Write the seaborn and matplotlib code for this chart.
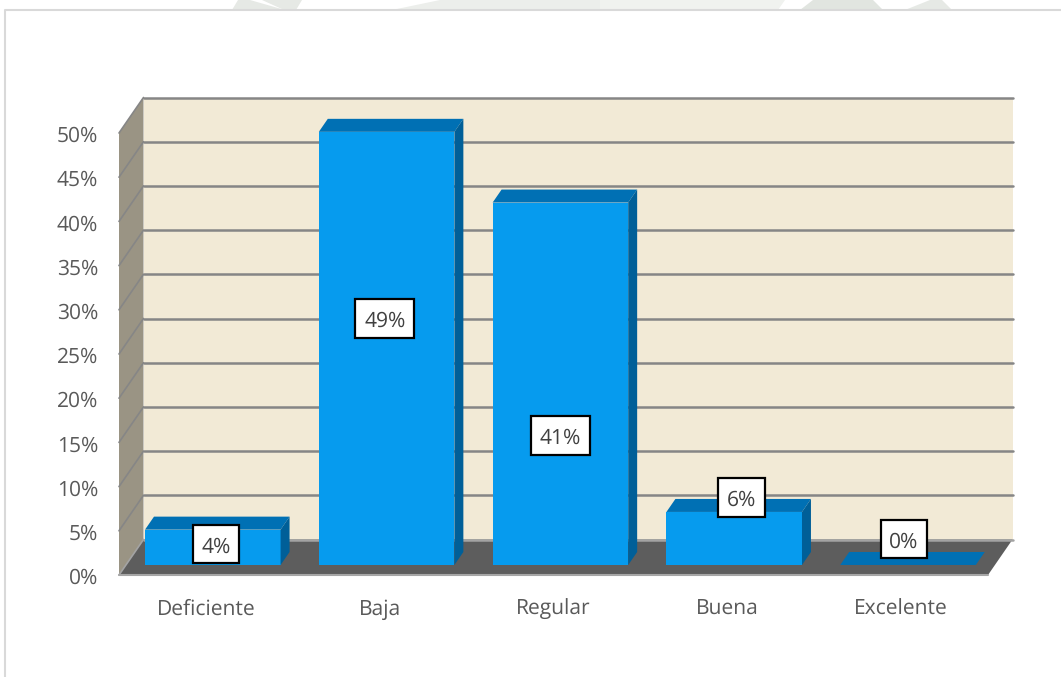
import matplotlib
matplotlib.use("Agg")
import matplotlib.pyplot as plt
import seaborn as sns
import pandas as pd
from matplotlib.patches import Polygon, Rectangle
from matplotlib.path import Path
from matplotlib.transforms import Affine2D, ScaledTranslation

categories = ["Deficiente", "Baja", "Regular", "Buena", "Excelente"]
values = [4, 49, 41, 6, 0]
value_labels = ["4%", "49%", "41%", "6%", "0%"]
y_ticks = [0, 5, 10, 15, 20, 25, 30, 35, 40, 45, 50]
y_tick_labels = ["0%", "5%", "10%", "15%", "20%", "25%", "30%", "35%", "40%", "45%", "50%"]
label_x = [0.058, 1.03, 2.04, 3.08, 4.017]
label_y = [3.15, 28.65, 15.45, 8.45, 3.72]

W, H = 1061, 677
sns.set_theme(style="white")
plt.rcParams["font.family"] = ["Open Sans", "DejaVu Sans"]
plt.rcParams["text.hinting"] = "no_hinting"
plt.rcParams["text.hinting_factor"] = 1
TEXT = "#595959"
GRID = "#868686"

fig = plt.figure(figsize=(W / 100, H / 100), dpi=100, facecolor="white")

# faint watermark peeking above the chart frame
watermark = [
    ([(232, 10), (238, 0), (250, 0), (285, 10)], "#e6e9e5"),
    ([(262, 0), (302, 0), (296, 10), (284, 10)], "#e6e9e5"),
    ([(392, 10), (440, 0), (600, 0), (600, 10)], "#eceeeb"),
    ([(600, 0), (785, 0), (778, 10), (600, 10)], "#f0f2ef"),
    ([(813, 0), (873, 0), (883, 10), (800, 10)], "#e1e5e0"),
    ([(905, 10), (930, 0), (942, 0), (952, 10)], "#e6e9e5"),
]
for pts, c in watermark:
    fig.patches.append(Polygon([(x / W, 1 - y / H) for x, y in pts], closed=True,
                               transform=fig.transFigure, fc=c, ec="none"))
fig.add_artist(plt.Line2D([5 / W, 5 / W, 1], [0, 1 - 10 / H, 1 - 10 / H],
                          color="#d9d9d9", lw=1.5, transform=fig.transFigure))

ax = fig.add_axes([119 / W, 1 - 575 / H, (988 - 119) / W, (575 - 133) / H])
df = pd.DataFrame({"categoria": categories, "valor": values})
sns.barplot(data=df, x="categoria", y="valor", color="#069bee", saturation=1,
            width=0.78, ax=ax, zorder=5, linewidth=0, edgecolor="none")
ax.set_xlim(-0.5, 4.5)
ax.set_ylim(0, 50)
ax.patch.set_alpha(0)
sns.despine(ax=ax, left=True, bottom=True, top=True, right=True)
ax.set_xlabel("")
ax.set_ylabel("")

# oblique depth, in data units per full wall depth
DX = 24.5 / 173.8
DY = 35.5 / 8.84
BAR_FRONT = 0.282
BAR_BACK = 0.648


def shift(x, y, f):
    return (x + DX * f, y + DY * f)


def poly(pts, color, z, **kw):
    ax.add_patch(Polygon(pts, closed=True, fc=color, ec="none", zorder=z, clip_on=False, **kw))


def label_box(x0, y0, width, height, mutation_size):
    """Square box around a label, sitting a little above the text's own extents."""
    pad = 0.42 * mutation_size
    lift = 3
    xa, xb = x0 - pad, x0 + width + pad
    ya, yb = y0 - pad + lift, y0 + height + pad + lift
    return Path([(xa, ya), (xb, ya), (xb, yb), (xa, yb), (xa, ya)], closed=True)


# the library's bars, taken before any wall is added
bars = [q for q in ax.patches if isinstance(q, Rectangle)]

# walls and floor
poly([shift(-0.5, 0, 0), shift(-0.5, 0, 1), shift(4.5, 0, 1), shift(4.5, 0, 0)], "#5d5d5d", 2)
poly([shift(-0.5, 0, 1), shift(-0.5, 50, 1), shift(4.5, 50, 1), shift(4.5, 0, 1)], "#f2ead6", 1)
poly([shift(-0.5, 0, 0), shift(-0.5, 50, 0), shift(-0.5, 50, 1), shift(-0.5, 0, 1)], "#9a9484", 1)

for t in y_ticks:
    a, b, c = shift(-0.5, t, 0), shift(-0.5, t, 1), shift(4.5, t, 1)
    col = "#a3a3a3" if t == 0 else GRID
    ax.plot([a[0], b[0]], [a[1], b[1]], color=col, lw=1.2, zorder=3, clip_on=False)
    ax.plot([b[0], c[0]], [b[1], c[1]], color=col, lw=1.8, zorder=3, clip_on=False)
ax.plot([-0.5, 4.5], [0, 0], color="#a6a6a6", lw=1.5, zorder=3, clip_on=False)

# bars: slide them to their depth, then add their side and top
bx, by = shift(0, 0, BAR_FRONT)
for p, v in zip(bars, values):
    p.set_transform(Affine2D().translate(bx, by) + ax.transData)
    p.set_clip_on(False)
    x0 = p.get_x() + bx
    x1 = x0 + p.get_width()
    y0 = by
    y1 = by + v
    d = BAR_BACK - BAR_FRONT
    poly([(x0, y1), (x1, y1), shift(x1, y1, d), shift(x0, y1, d)], "#0070b4", 6)
    poly([(x1, y0), (x1, y1), shift(x1, y1, d), shift(x1, y0, d)], "#005f98", 6)

for x, y, s in zip(label_x, label_y, value_labels):
    ax.text(x, y, s, ha="center", va="center", fontsize=15, color="#404040", zorder=8,
            bbox=dict(boxstyle=label_box, fc="white", ec="black", lw=1.6))

ax.set_yticks(y_ticks, y_tick_labels)
ax.set_xticks(range(len(categories)), categories)
ax.tick_params(axis="y", length=0, pad=15, labelsize=15, labelcolor=TEXT)
ax.tick_params(axis="x", length=0, pad=17, labelsize=15, labelcolor=TEXT)
nudge = ScaledTranslation(0, -1 / 100, fig.dpi_scale_trans)
for lbl in ax.get_yticklabels():
    lbl.set_transform(lbl.get_transform() + nudge)

fig.savefig("out.png", dpi=100, facecolor="white")
